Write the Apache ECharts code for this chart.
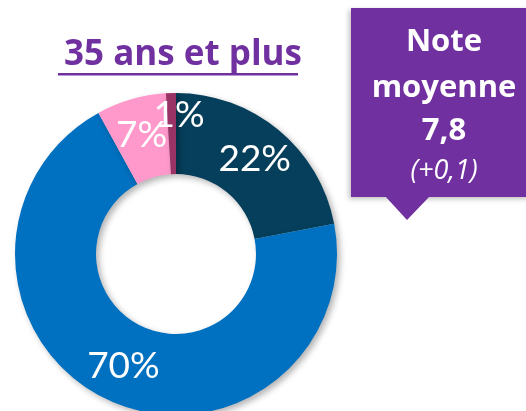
<!DOCTYPE html>
<html>
<head>
<meta charset="utf-8">
<script src="https://cdn.jsdelivr.net/npm/echarts@6/dist/echarts.min.js"></script>
<style>
  html, body { margin: 0; padding: 0; background: #fff; }
  #chart { width: 526px; height: 411px; }
</style>
</head>
<body>
<div id="chart"></div>
<script>
// parts of the 35+ group, clockwise from 12 o'clock
var parts = ['A', 'B', 'C', 'D']
var shares = [22, 70, 7, 1]
var colors = ['#063f5b', '#0070c0', '#ff99cc', '#993366']

var noteLines = ['Note', 'moyenne', '7,8']
var noteDelta = '(+0,1)'

var purple = '#7030a0'

var chart = echarts.init(document.getElementById('chart'))

var pieData = shares.map(function (v, i) {
  var item = { name: parts[i], value: v, itemStyle: { color: colors[i] } }
  // the tiny slice label sits a bit higher in the original
  if (i === 3) item.label = { offset: [7, -15] }
  return item
})

function noteText(txt, y, font) {
  return {
    type: 'text', x: 444, y: y,
    style: { text: txt, textAlign: 'center', textVerticalAlign: 'middle', fill: '#fff', font: font }
  }
}

var option = {
  animation: false,
  title: {
    text: '35 ans et plus',
    left: 178,
    top: 33,
    textAlign: 'center',
    textStyle: {
      fontFamily: 'Open Sans',
      fontWeight: 'bold',
      fontSize: 35,
      color: purple
    }
  },
  series: [
    {
      type: 'pie',
      center: [176, 254],
      radius: [80, 161],
      startAngle: 90,
      clockwise: true,
      silent: true,
      avoidLabelOverlap: false,
      labelLayout: { hideOverlap: false },
      itemStyle: {
        shadowBlur: 6,
        shadowOffsetX: 3,
        shadowOffsetY: 3,
        shadowColor: 'rgba(0,0,0,0.3)'
      },
      label: {
        position: 'inside',
        formatter: '{c}%',
        color: '#fff',
        fontFamily: 'Lato',
        fontWeight: 'normal',
        fontSize: 37
      },
      labelLine: { show: false },
      data: pieData
    }
  ],
  graphic: [
    // underline of the title
    { type: 'rect', shape: { x: 58, y: 73, width: 240, height: 2.5 }, style: { fill: purple } },
    // callout box
    {
      type: 'rect',
      shape: { x: 351, y: 8, width: 180, height: 189 },
      style: { fill: purple, shadowBlur: 5, shadowOffsetX: -2, shadowOffsetY: 2, shadowColor: 'rgba(0,0,0,0.25)' }
    },
    {
      type: 'polygon',
      shape: { points: [[385, 196], [430, 196], [407, 220]] },
      style: { fill: purple }
    },
    noteText(noteLines[0], 42, 'bold 31px "Open Sans"'),
    noteText(noteLines[1], 88, 'bold 31px "Open Sans"'),
    noteText(noteLines[2], 131, 'bold 31px "Open Sans"'),
    noteText(noteDelta, 171, 'italic 27px "Open Sans"')
  ]
}

chart.setOption(option)
</script>
</body>
</html>
